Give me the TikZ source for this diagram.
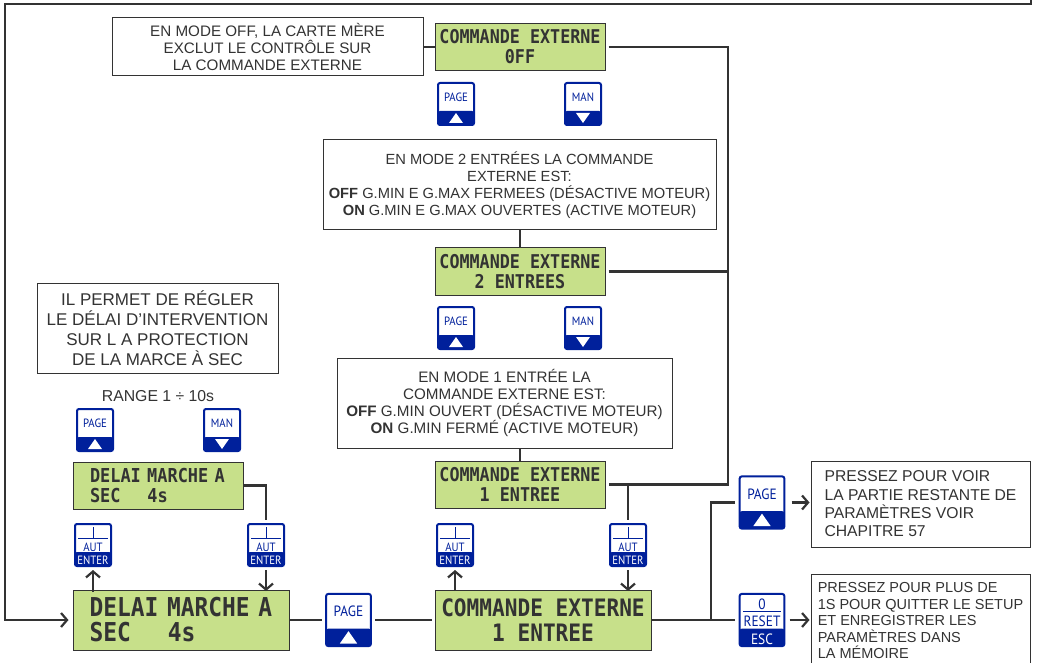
\documentclass[tikz,border=0pt]{standalone}
\usepackage{fontspec}
\setmainfont{Liberation Sans}
\newfontfamily\lcdfont[FakeStretch=0.88]{DejaVu Sans Mono}
\newfontfamily\keyfont{PT Sans}
\usepackage{tikz}
\usetikzlibrary{arrows.meta,calc}
\definecolor{keyblue}{HTML}{00209B}
\definecolor{lcdgreen}{HTML}{C7E08A}
\definecolor{inkgrey}{HTML}{333333}

\tikzset{
    note/.style={draw=inkgrey, line width=1pt, fill=white, text=inkgrey, align=center, inner sep=0pt},
    lcd/.style={draw=inkgrey, line width=1pt, fill=lcdgreen, text=inkgrey, inner sep=0pt, align=center,
        minimum width=170pt, minimum height=47pt, font=\lcdfont\bfseries\fontsize{19}{20}\selectfont},
    biglcd/.style={lcd, minimum width=216pt, minimum height=60pt, font=\lcdfont\bfseries\fontsize{24}{25}\selectfont},
    wire/.style={draw=inkgrey, line width=2.2pt},
    arrow/.style={wire, ->, >={Straight Barb[length=6pt,width=14pt]}},
    keybody/.style={draw=keyblue, line width=2pt, fill=white, rounded corners=2pt, minimum width=36pt, minimum height=42pt, inner sep=0pt,
        path picture={\fill[keyblue] ($(path picture bounding box.south west)+(0,-14)$) rectangle (path picture bounding box.south east);}},
    keytext/.style={inner sep=0pt, text=keyblue, font=\keyfont\fontsize{12}{12}\selectfont, xscale=.9},
    keyband/.style={keytext, text=white},
}

% key with a triangle, #4 is 1 for small ones
\newcommand{\keyup}[4]{
    \begin{scope}[shift={(#2)}, scale=#4, transform shape]
        \node[keybody] (#1) at (0,0) {};
        \node[keytext] (#1-label) at (0,-7) {#3};
        \fill[white] (-7,19) -- (7,19) -- (0,9) -- cycle;
    \end{scope}
}
\newcommand{\keydown}[4]{
    \begin{scope}[shift={(#2)}, scale=#4, transform shape]
        \node[keybody] (#1) at (0,0) {};
        \node[keytext] (#1-label) at (0,-7) {#3};
        \fill[white] (-7,9) -- (7,9) -- (0,19) -- cycle;
    \end{scope}
}
\newcommand{\keyaut}[2]{
    \begin{scope}[shift={(#2)}]
        \node[keybody] (#1) at (0,0) {};
        \draw[keyblue, line width=1pt] (0,-18) -- (0,-7) (-15,-7) -- (15,-7);
        \node[keytext] (#1-label) at (0,2) {AUT};
        \node[keyband] (#1-band) at (0,15) {ENTER};
    \end{scope}
}
\newcommand{\keyesc}[2]{
    \begin{scope}[shift={(#2)}, scale=1.24, transform shape]
        \node[keybody] (#1) at (0,0) {};
        \draw[keyblue, line width=.8pt] (-15,-7) -- (15,-7);
        \node[keytext] (#1-zero) at (0,-13) {0};
        \node[keytext] (#1-label) at (0,1) {RESET};
        \node[keyband] (#1-band) at (0,15.5) {ESC};
    \end{scope}
}

\begin{document}
\begin{tikzpicture}[x=1pt, y=-1pt]
    \useasboundingbox (0,0) rectangle (1039,663);

    % Notes
    \node[note, minimum width=311pt, minimum height=58pt, font=\fontsize{15.2}{17}\selectfont] (noteoff) at (267.5,47) {EN MODE OFF, LA CARTE MÈRE\\EXCLUT LE CONTRÔLE SUR\\LA COMMANDE EXTERNE};
    \node[note, minimum width=393pt, minimum height=90pt, font=\fontsize{14.7}{17}\selectfont] (notetwo) at (519.5,185) {EN MODE 2 ENTRÉES LA COMMANDE\\EXTERNE EST:\\\textbf{OFF} G.MIN E G.MAX FERMEES (DÉSACTIVE MOTEUR)\\\textbf{ON} G.MIN E G.MAX OUVERTES (ACTIVE MOTEUR)};
    \node[note, minimum width=335pt, minimum height=90pt, font=\fontsize{15.2}{17.3}\selectfont] (noteone) at (504.5,403) {EN MODE 1 ENTRÉE LA\\COMMANDE EXTERNE EST:\\\textbf{OFF} G.MIN OUVERT (DÉSACTIVE MOTEUR)\\\textbf{ON} G.MIN FERMÉ (ACTIVE MOTEUR)};
    \node[note, minimum width=241pt, minimum height=90pt, font=\fontsize{17}{20}\selectfont] (notedry) at (157.5,328) {IL PERMET DE RÉGLER\\LE DÉLAI D’INTERVENTION\\SUR L A PROTECTION\\DE LA MARCE À SEC};
    \node[text=inkgrey, inner sep=0pt, font=\fontsize{15.8}{17}\selectfont] (range) at (158,396) {RANGE 1 ÷ 10s};
    \node[note, minimum width=219pt, minimum height=86pt, align=left, font=\fontsize{15.7}{18.3}\selectfont] (notepage) at (920.5,504) {PRESSEZ POUR VOIR\\LA PARTIE RESTANTE DE\\PARAMÈTRES VOIR\\CHAPITRE 57};
    \node[note, minimum width=219pt, minimum height=94pt, align=left, font=\fontsize{14.5}{16.5}\selectfont] (noteesc) at (920.5,621) {PRESSEZ POUR PLUS DE\\1S POUR QUITTER LE SETUP\\ET ENREGISTRER LES\\PARAMÈTRES DANS\\LA MÉMOIRE};

    % Displays
    \node[lcd] (lcdoff) at (520,47) {COMMANDE EXTERNE\\0FF};
    \node[lcd] (lcdtwo) at (520,271.5) {COMMANDE EXTERNE\\2 ENTREES};
    \node[lcd] (lcdone) at (520,484.5) {COMMANDE EXTERNE\\1 ENTREE};
    \node[lcd, align=left, text width=136pt, font=\lcdfont\bfseries\fontsize{19.2}{20}\selectfont] (lcddelay) at (158,485.5) {DELAI MARCHE A\\SEC\hspace{27pt}4s};
    \node[biglcd, align=left, text width=183pt, font=\lcdfont\bfseries\fontsize{26}{25}\selectfont] (bigdelay) at (181,620) {DELAI MARCHE A\\SEC\hspace{37pt}4s};
    \node[biglcd] (bigone) at (543,620) {COMMANDE EXTERNE\\1 ENTREE};

    % Keys
    \keyup{pageoff}{456,104}{PAGE}{1}
    \keydown{manoff}{583,104}{MAN}{1}
    \keyup{pagetwo}{456,328}{PAGE}{1}
    \keydown{mantwo}{583,328}{MAN}{1}
    \keyup{pagedry}{95,430}{PAGE}{1}
    \keydown{mandry}{222,430}{MAN}{1}
    \keyaut{autdelayl}{93,545}
    \keyaut{autdelayr}{266,545}
    \keyaut{autonel}{455,545}
    \keyaut{autoner}{628,545}
    \keyup{pagemid}{348.5,620}{PAGE}{1.24}
    \keyup{pageout}{762,502.5}{PAGE}{1.24}
    \keyesc{resetout}{762,620}

    % Connectors
    \coordinate (backtop) at (1031,0);
    \draw[arrow, shorten >=4pt] (backtop) |- (5,4) |- (bigdelay.west);
    \draw[wire] (noteoff) -- (lcdoff);
    \draw[wire] (lcdtwo.north) -- (lcdtwo.north |- notetwo.south);
    \draw[wire] (lcdone.north) -- (lcdone.north |- noteone.south);
    \coordinate (busoff) at (728,47);
    \draw[wire] ($(lcdoff.east)+(3,0)$) -- (busoff) |- ($(lcdone.east)+(3,0)$);
    \draw[wire] ($(lcdtwo.east)+(3,0)$) -- (busoff |- lcdtwo.east);
    \draw[wire] (lcddelay.east) -| ($(autdelayr.north)+(0,-3)$);
    \draw[wire] (autoner.north |- lcdone.east) -- ($(autoner.north)+(0,-3)$);
    \draw[arrow] ($(autdelayl.south)+(0,25)$) -- ($(autdelayl.south)+(0,3)$);
    \draw[arrow] ($(autdelayr.south)+(0,3)$) -- ($(autdelayr.south)+(0,24)$);
    \draw[arrow] ($(autonel.south)+(0,24)$) -- ($(autonel.south)+(0,3)$);
    \draw[arrow] ($(autoner.south)+(0,3)$) -- ($(autoner.south)+(0,24)$);
    \draw[wire] (bigdelay.east) -- ($(pagemid.west)+(-3,0)$);
    \draw[wire] ($(pagemid.east)+(3,0)$) -- ($(bigone.west)+(-3,0)$);
    \draw[wire] (bigone.east) -- ($(resetout.west)+(-3,0)$);
    \coordinate (busout) at (711,620);
    \draw[wire] (busout) |- ($(pageout.west)+(-3,0)$);
    \draw[arrow] ($(pageout.east)+(6,0)$) -- ($(notepage.west |- pageout.east)+(-1,0)$);
    \draw[arrow] ($(resetout.east)+(4,0)$) -- ($(noteesc.west |- resetout.east)+(-1,0)$);
\end{tikzpicture}
\end{document}
